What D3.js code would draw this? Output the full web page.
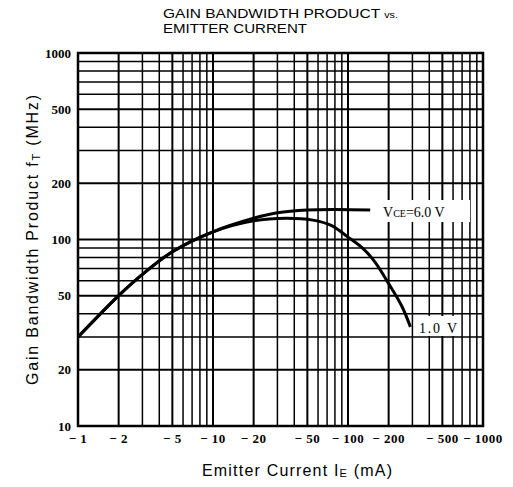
<!DOCTYPE html>
<html>
<head>
<meta charset="utf-8">
<script src="https://cdn.jsdelivr.net/npm/d3@7"></script>
<style>
  body { margin: 0; background: #fff; }
  svg { display: block; }
</style>
</head>
<body>
<svg width="513" height="487"></svg>
<script>
// tick labels
const xTicks = [1, 2, 5, 10, 20, 50, 100, 200, 500, 1000];
const yTicks = [10, 20, 50, 100, 200, 500, 1000];

// curves: [Ie (mA), fT (MHz)]
const vce6 = [[1, 30], [2, 50], [3, 65], [5, 86], [10, 110], [20, 130],
  [30, 139], [50, 144], [80, 145], [146, 144]];
const vce1 = [[1, 30], [2, 50], [3, 65], [5, 86], [10, 110], [20, 126],
  [35, 130], [55, 127], [75, 119], [100, 103], [130, 89], [160, 75],
  [200, 58], [250, 44], [290, 34]];

const margin = { left: 78, right: 30, top: 53, bottom: 61 };
const width = 513, height = 487;

const svg = d3.select("svg");

const x = d3.scaleLog().domain([1, 1000]).range([margin.left, width - margin.right]);
const y = d3.scaleLog().domain([10, 1000]).range([height - margin.bottom, margin.top]);

// grid: 1..9 in each decade
const gridX = [], gridY = [];
[1, 10, 100].forEach(d => { for (let k = 2; k <= 9; k++) gridX.push(k * d); });
[10, 100].forEach(d => { for (let k = 2; k <= 9; k++) gridY.push(k * d); });
gridX.push(10, 100); gridY.push(100);

const grid = svg.append("g").attr("stroke", "#000");
grid.selectAll(".gx").data(gridX).join("line")
  .attr("x1", d => x(d)).attr("x2", d => x(d))
  .attr("y1", y(10)).attr("y2", y(1000))
  .attr("stroke-width", d => [2, 5, 10, 20, 50, 100, 200, 500].includes(d) ? 2 : 1.5);
grid.selectAll(".gy").data(gridY).join("line")
  .attr("y1", d => y(d)).attr("y2", d => y(d))
  .attr("x1", x(1)).attr("x2", x(1000))
  .attr("stroke-width", d => [20, 50, 100, 200, 500].includes(d) ? 2 : 1.5);

// frame
svg.append("rect")
  .attr("x", x(1)).attr("y", y(1000))
  .attr("width", x(1000) - x(1)).attr("height", y(10) - y(1000))
  .attr("fill", "none").attr("stroke", "#000").attr("stroke-width", 2.5);

// curves
const line = d3.line().x(d => x(d[0])).y(d => y(d[1])).curve(d3.curveCatmullRom.alpha(0.5));
[vce6, vce1].forEach(c => {
  svg.append("path").attr("d", line(c))
    .attr("fill", "none").attr("stroke", "#000").attr("stroke-width", 3);
});

// tick labels
svg.append("g").selectAll("text").data(yTicks).join("text")
  .attr("x", x(1) - 7).attr("y", d => y(d)).attr("dy", "0.35em")
  .attr("text-anchor", "end")
  .style("font", "bold 13px 'Liberation Serif', serif")
  .text(d => d);

svg.append("g").selectAll("text").data(xTicks).join("text")
  .attr("x", d => x(d)).attr("y", 443)
  .attr("text-anchor", "middle")
  .style("font", "bold 13px 'Liberation Serif', serif")
  .style("letter-spacing", "0.5px")
  .text(d => "\u2212 " + d);

// curve labels with white backing
const labelFont = "14px 'Liberation Serif', serif";
svg.append("rect").attr("x", 378).attr("y", 200).attr("width", 92).attr("height", 22).attr("fill", "#fff");
const l6 = svg.append("text").attr("x", 383).attr("y", 217).style("font", labelFont);
l6.append("tspan").text("V");
l6.append("tspan").attr("font-size", 10).text("CE");
l6.append("tspan").text("=6.0 V");

svg.append("rect").attr("x", 415).attr("y", 316).attr("width", 46).attr("height", 20).attr("fill", "#fff");
svg.append("text").attr("x", 419).attr("y", 333).style("font", labelFont)
  .attr("textLength", 38).attr("lengthAdjust", "spacing").text("1.0 V");

// title
const tFont = "13px 'Liberation Sans', Arial, sans-serif";
const t1 = svg.append("text").attr("x", 163).attr("y", 18).style("font", tFont)
  .attr("textLength", 235).attr("lengthAdjust", "spacingAndGlyphs");
t1.append("tspan").text("GAIN  BANDWIDTH  PRODUCT  ");
t1.append("tspan").attr("font-size", 9).text("vs.");
svg.append("text").attr("x", 163).attr("y", 33).style("font", tFont)
  .attr("textLength", 144).attr("lengthAdjust", "spacingAndGlyphs")
  .text("EMITTER  CURRENT");

// axis titles
const axFont = "16px 'Liberation Sans', Arial, sans-serif";
const yt = svg.append("text")
  .attr("transform", "translate(38,240) rotate(-90)")
  .attr("text-anchor", "middle").style("font", axFont)
  .attr("textLength", 290).attr("lengthAdjust", "spacing");
yt.append("tspan").text("Gain Bandwidth Product  f");
yt.append("tspan").attr("font-size", 11).attr("dy", 2).text("T");
yt.append("tspan").attr("dy", -2).text(" (MHz)");

const xt = svg.append("text")
  .attr("x", 297).attr("y", 476)
  .attr("text-anchor", "middle").style("font", axFont)
  .attr("textLength", 190).attr("lengthAdjust", "spacing");
xt.append("tspan").text("Emitter Current  I");
xt.append("tspan").attr("font-size", 11).attr("dy", 1).text("E");
xt.append("tspan").attr("dy", -1).text(" (mA)");
</script>
</body>
</html>
